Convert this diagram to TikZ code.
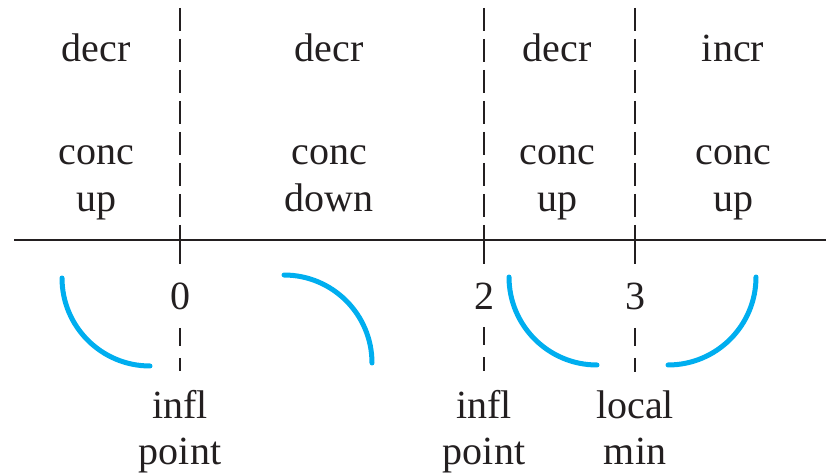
\documentclass[tikz,border=0pt]{standalone}
\usepackage{fontspec}
\setmainfont{Liberation Serif}
\usepackage{xcolor}
\usetikzlibrary{positioning}
\definecolor{curv}{RGB}{0,174,239}
\definecolor{ink}{RGB}{35,31,32}
\tikzset{
  lbl/.style ={align=center,inner sep=0pt,anchor=base,text=ink,font=\fontsize{20}{23.5}\selectfont},
  bot/.style ={lbl,inner ysep=9pt},
  num/.style ={inner xsep=0pt,inner ysep=9pt,anchor=base,text=ink,font=\fontsize{20}{23.5}\selectfont},
  axis/.style={ink,line width=1pt},
  divd/.style={ink,line width=0.8pt,dash pattern=on 11.5pt off 4pt},
  divs/.style={ink,line width=0.8pt},
  divl/.style={ink,line width=0.8pt,dash pattern=on 9pt off 6pt},
  curve/.style={curv,line width=2.5pt,line cap=round},
}
\begin{document}
\begin{tikzpicture}[x=0.5pt,y=-0.5pt]
  \useasboundingbox (0,0) rectangle (826,476);
  % axis
  \coordinate (axl) at (14,240);
  \coordinate (axr) at (826,240);
  \draw[axis] (axl)--(axr);
  % intervals
  \node[lbl] (d1) at (96,62){decr};
  \node[lbl] (d2) at (329,62){decr};
  \node[lbl] (d3) at (557,62){decr};
  \node[lbl] (d4) at (733,62){incr};
  \node[lbl] (c1) at (96,212){conc\\up};
  \node[lbl] (c2) at (329,212){conc\\down};
  \node[lbl] (c3) at (557,212){conc\\up};
  \node[lbl] (c4) at (733,212){conc\\up};
  % dividers
  \coordinate (t0) at (180,8);  \coordinate (s0) at (180,230);
  \coordinate (t2) at (484,8);  \coordinate (s2) at (484,230);
  \coordinate (t3) at (635,8);  \coordinate (s3) at (635,230);
  \node[num] (n0) at (180,309){0};
  \node[num] (n2) at (484,309){2};
  \node[num] (n3) at (635,309){3};
  \node[bot] (p0) at (180,465){infl\\point};
  \node[bot] (p2) at (484,465){infl\\point};
  \node[bot] (p3) at (635,465){local\\min};
  \draw[divd] (t0)--(s0); \draw[divs] (s0)--(n0); \draw[divl] (n0)--(p0);
  \draw[divd] (t2)--(s2); \draw[divs] (s2)--(n2); \draw[divl] (n2)--(p2);
  \draw[divd] (t3)--(s3); \draw[divs] (s3)--(n3); \draw[divl] (n3)--(p3);
  % shape of the graph
  \draw[curve] (62,278) arc[start angle=180,end angle=90,radius=88];
  \draw[curve] (284,275) arc[start angle=270,end angle=360,radius=88];
  \draw[curve] (509,277) arc[start angle=180,end angle=90,radius=88];
  \draw[curve] (668,365) arc[start angle=90,end angle=0,radius=88];
\end{tikzpicture}
\end{document}
